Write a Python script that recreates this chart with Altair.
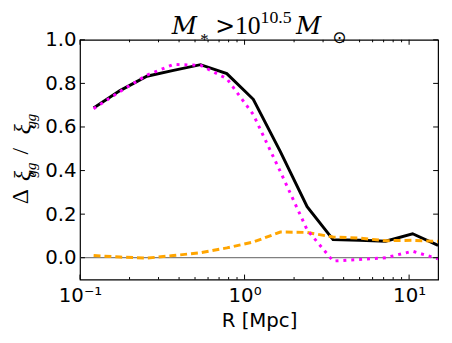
import altair as alt
import pandas as pd

# ---- data ----
R = [0.121, 0.175, 0.255, 0.37, 0.54, 0.78, 1.13, 1.65, 2.4, 3.45, 5.0, 7.2, 10.5, 15.0]
black = [0.687, 0.767, 0.833, 0.860, 0.886, 0.845, 0.727, 0.487, 0.234, 0.083, 0.080, 0.076, 0.110, 0.057]
magenta = [0.684, 0.763, 0.838, 0.887, 0.883, 0.822, 0.657, 0.395, 0.128, -0.015, -0.008, 0.000, 0.030, -0.005]
orange = [0.010, 0.003, -0.002, 0.010, 0.023, 0.045, 0.072, 0.118, 0.116, 0.095, 0.090, 0.078, 0.080, 0.075]

x_major = [0.1, 1.0, 10.0]
x_minor = [0.2, 0.3, 0.4, 0.5, 0.6, 0.7, 0.8, 0.9, 2, 3, 4, 5, 6, 7, 8, 9]
y_ticks = [0.0, 0.2, 0.4, 0.6, 0.8, 1.0]
zero_line = [0.0]

W, H = 363, 243

xscale = alt.Scale(type="log", domain=[0.1, 15.0], nice=False)
yscale = alt.Scale(domain=[-0.1, 1.0], nice=False, zero=False)

xaxis = alt.Axis(
    values=x_major,
    labelExpr="datum.value < 0.5 ? '10⁻¹' : (datum.value < 5 ? '10⁰' : '10¹')",
    ticks=False, domain=False, grid=False,
    labelFontSize=20, labelFont="DejaVu Sans", labelColor="black",
    labelPadding=6, labelFlush=False, labelOverlap=False,
    title="R [Mpc]", titleFontSize=20, titleFont="DejaVu Sans",
    titleFontWeight="normal", titleColor="black", titlePadding=6,
)
yaxis = alt.Axis(
    values=y_ticks, format=".1f",
    ticks=False, domain=False, grid=False,
    labelFontSize=20, labelFont="DejaVu Sans", labelColor="black",
    labelPadding=4, labelFlush=False, labelOverlap=False, title=None,
)


def X(field):
    return alt.X(f"{field}:Q", scale=xscale, axis=xaxis)


def Y(field):
    return alt.Y(f"{field}:Q", scale=yscale, axis=yaxis)


df = pd.DataFrame({"R": R, "black": black, "magenta": magenta, "orange": orange})

zero = alt.Chart(pd.DataFrame({"z": zero_line})).mark_rule(
    color="#808080", strokeWidth=1.3
).encode(y=Y("z"))

line_black = alt.Chart(df).mark_line(color="black", strokeWidth=3, clip=True).encode(
    x=X("R"), y=Y("black"), order="R:Q"
)
line_orange = alt.Chart(df).mark_line(
    color="#FFA500", strokeWidth=3, strokeDash=[7, 4], clip=True
).encode(x=X("R"), y=Y("orange"), order="R:Q")
line_magenta = alt.Chart(df).mark_line(
    color="#FF00FF", strokeWidth=3, strokeDash=[3, 5], clip=True
).encode(x=X("R"), y=Y("magenta"), order="R:Q")

# inward tick marks (matplotlib classic style)
xmaj = pd.DataFrame({"t": x_major})
xmin = pd.DataFrame({"t": x_minor})
ytk = pd.DataFrame({"t": y_ticks})
tick_style = dict(color="black", strokeWidth=1)
ticks = [
    alt.Chart(xmaj).mark_rule(**tick_style).encode(x=X("t"), y=alt.value(H), y2=alt.value(H - 5)),
    alt.Chart(xmaj).mark_rule(**tick_style).encode(x=X("t"), y=alt.value(0), y2=alt.value(5)),
    alt.Chart(xmin).mark_rule(**tick_style).encode(x=X("t"), y=alt.value(H), y2=alt.value(H - 2.5)),
    alt.Chart(xmin).mark_rule(**tick_style).encode(x=X("t"), y=alt.value(0), y2=alt.value(2.5)),
    alt.Chart(ytk).mark_rule(**tick_style).encode(y=Y("t"), x=alt.value(0), x2=alt.value(5)),
    alt.Chart(ytk).mark_rule(**tick_style).encode(y=Y("t"), x=alt.value(W), x2=alt.value(W - 5)),
]


def txt(s, x, y, size, font="Liberation Serif", style="normal", align="left",
        baseline="alphabetic", angle=0):
    return alt.Chart(pd.DataFrame({"t": [s]})).mark_text(
        text=s, fontSize=size, font=font, fontStyle=style, align=align,
        baseline=baseline, angle=angle, color="black",
    ).encode(x=alt.value(x), y=alt.value(y))


# title: M_* > 10^{10.5} M_⊙
title = [
    txt("M", 93, -6, 25, font="DejaVu Serif", style="italic"),
    txt("*", 122, 5, 17),
    txt(">", 137, -6, 24, font="DejaVu Serif"),
    txt("10", 157, -6, 26),
    txt("10.5", 183, -17, 18),
    txt("M", 219, -6, 25, font="DejaVu Serif", style="italic"),
    txt("⊙", 263, -1.5, 17, font="DejaVu Sans", align="center", baseline="middle"),
]

# y label: Δξ_gg / ξ_gg (rotated)
ylabel = [
    txt("Δ", -53, 159, 24, align="center", angle=270),
    txt("ξ", -51, 138, 24, style="italic", align="center", angle=270),
    txt("gg", -45, 132, 15, style="italic", align="center", angle=270),
    txt("/", -53, 113, 24, align="center", angle=270),
    txt("ξ", -51, 90.5, 24, style="italic", align="center", angle=270),
    txt("gg", -45, 82.5, 15, style="italic", align="center", angle=270),
]

chart = alt.layer(
    zero, line_black, line_orange, line_magenta, *ticks, *title, *ylabel
).properties(
    width=W, height=H,
    autosize=alt.AutoSizeParams(type="none"),
    padding={"left": 73, "top": 30, "right": 6, "bottom": 55},
    background="white",
).configure_view(stroke="black", strokeWidth=1.2)

chart.save("out.html", embed_options={"renderer": "svg", "actions": False})
